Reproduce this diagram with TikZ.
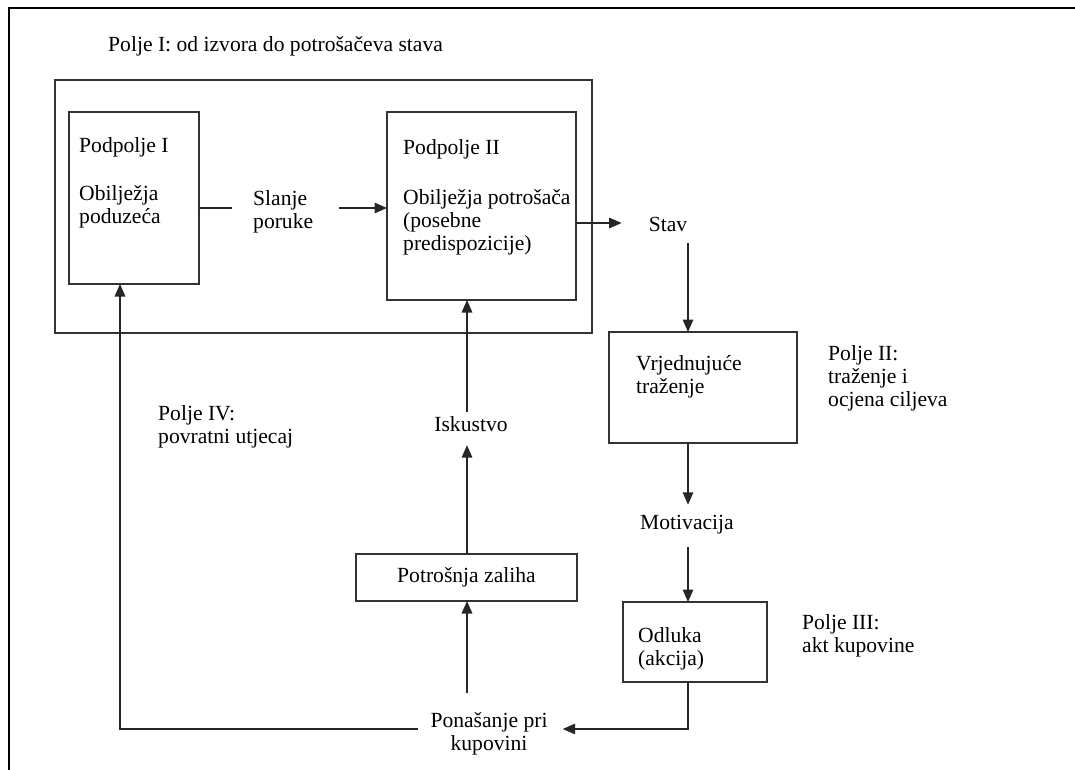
\documentclass[tikz,border=0pt]{standalone}
\usepackage{fontspec}
\setmainfont{Liberation Serif}
\usetikzlibrary{arrows.meta}
\begin{document}
\begin{tikzpicture}[x=1pt,y=-1pt,
  every node/.style={font=\fontsize{21.6}{23.3}\selectfont},
  frame/.style={line width=2pt,black},
  box/.style={draw=black!80,line width=1.7pt,rectangle,inner sep=0pt,outer sep=0pt},
  txt/.style={inner sep=0pt,align=left,anchor=north west},
  lbl/.style={inner sep=0pt,text height=15pt,text depth=5pt},
  con/.style={line width=1.6pt,black!85},
  arr/.style={con,-{Triangle[length=12.5pt,width=10.5pt]}}]
\useasboundingbox (0,0) rectangle (1075,770);
% page frame
\draw[frame] (9,770) -- (9,8) -- (1075,8);
% helper coordinates
\coordinate (ax) at (688,0);
\coordinate (bx) at (467,0);
\coordinate (cx) at (120,0);
\coordinate (sy) at (0,208);
\coordinate (ty) at (0,223);
\coordinate (by) at (0,729);
% title
\node[txt] (title) at (108,36) {Polje I: od izvora do potrošačeva stava};
% boxes
\node[box,minimum width=537pt,minimum height=253pt] (polje1) at (323.5,206.5) {};
\node[box,minimum width=130pt,minimum height=172pt] (pp1) at (134,198) {};
\node[box,minimum width=189pt,minimum height=188pt] (pp2) at (481.5,206) {};
\node[box,minimum width=188pt,minimum height=111pt] (vrj) at (703,387.5) {};
\node[box,minimum width=144pt,minimum height=80pt] (odluka) at (695,642) {};
\node[box,minimum width=221pt,minimum height=47pt] (potrosnja) at (466.5,577.5) {Potrošnja zaliha};
% texts in boxes
\node[txt] (pp1a) at (79,137) {Podpolje I};
\node[txt] (pp1b) at (79,185) {Obilježja\\poduzeća};
\node[txt] (pp2a) at (403,139) {Podpolje II};
\node[txt] (pp2b) at (403,189) {Obilježja potrošača\\(posebne\\predispozicije)};
\node[txt] (vrjt) at (636,355) {Vrjednujuće\\traženje};
\node[txt] (odlukat) at (638,627) {Odluka\\(akcija)};
% free labels
\node[txt] (slanje) at (253,190) {Slanje\\poruke};
\node[lbl] (stav) at (668,226.5) {Stav};
\node[lbl] (motiv) at (687,524.5) {Motivacija};
\node[lbl] (iskustvo) at (471,426.5) {Iskustvo};
\node[inner sep=0pt,align=center,anchor=north] (ponasanje) at (489,712) {Ponašanje pri\\kupovini};
\node[txt] (polje2) at (828,345) {Polje II:\\traženje i\\ocjena ciljeva};
\node[txt] (polje3) at (802,614) {Polje III:\\akt kupovine};
\node[txt] (polje4) at (158,405) {Polje IV:\\povratni utjecaj};
% connectors
\draw[con,shorten >=21pt] (pp1.east |- sy) -- (slanje.west |- sy);
\draw[arr,shorten <=26pt] (slanje.east |- sy) -- (pp2.west |- sy);
\draw[arr,shorten >=27pt] (pp2.east |- ty) -- (stav.west |- ty);
\draw[arr,shorten <=6.5pt] (ax |- stav.south) -- (ax |- vrj.north);
\draw[arr,shorten >=9.5pt] (ax |- vrj.south) -- (ax |- motiv.north);
\draw[arr,shorten <=12.5pt] (ax |- motiv.south) -- (ax |- odluka.north);
\draw[arr,shorten >=15pt] (ax |- odluka.south) -- (ax |- by) -- (ponasanje.east |- by);
\draw[arr,shorten <=19pt] (bx |- ponasanje.north) -- (bx |- potrosnja.south);
\draw[arr,shorten >=8.5pt] (bx |- potrosnja.north) -- (bx |- iskustvo.south);
\draw[arr,shorten <=4.5pt] (bx |- iskustvo.north) -- (bx |- pp2.south);
\draw[arr,shorten <=12pt] (ponasanje.west |- by) -- (cx |- by) -- (cx |- pp1.south);
\end{tikzpicture}
\end{document}
